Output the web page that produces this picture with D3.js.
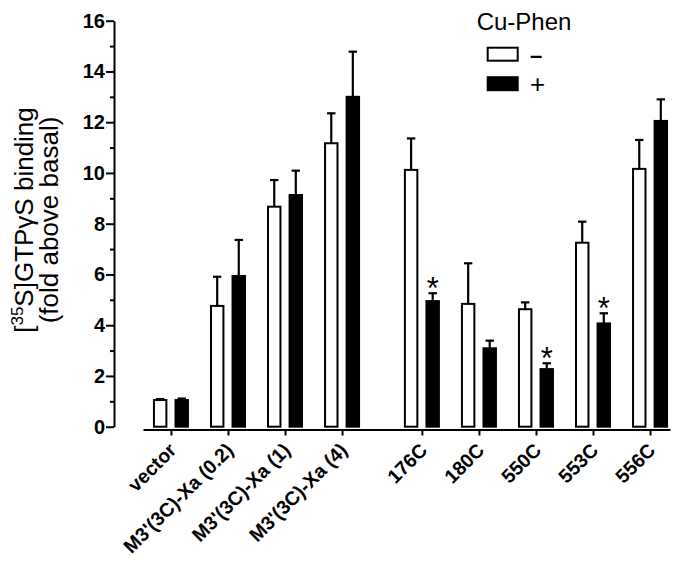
<!DOCTYPE html>
<html>
<head>
<meta charset="utf-8">
<script src="https://cdn.jsdelivr.net/npm/d3@7"></script>
<style>
  body { margin: 0; background: #fff; }
  svg { font-family: Arial, "Liberation Sans", Helvetica, sans-serif; }
</style>
</head>
<body>
<svg id="chart" width="673" height="563"></svg>
<script>
// data (fold above basal)
const categories = ["vector", "M3'(3C)-Xa (0.2)", "M3'(3C)-Xa (1)", "M3'(3C)-Xa (4)",
                    "176C", "180C", "550C", "553C", "556C"];
const minusValues = [1.05, 4.76, 8.67, 11.17, 10.12, 4.84, 4.63, 7.25, 10.16];
const minusErrors = [0.04, 1.15, 1.05, 1.18, 1.24, 1.60, 0.27, 0.83, 1.14];
const plusValues  = [1.05, 5.94, 9.13, 13.00, 4.95, 3.09, 2.27, 4.07, 12.05];
const plusErrors  = [0.06, 1.42, 0.96, 1.78, 0.31, 0.30, 0.23, 0.40, 0.85];
const significant = [false, false, false, false, true, false, true, true, false];
const yTicks = [0, 2, 4, 6, 8, 10, 12, 14, 16];
const yMinorTicks = [1, 3, 5, 7, 9, 11, 13, 15];
const legendTitle = "Cu-Phen";
const legendLabels = ["–", "+"];

// layout
const gapAfter = 3;      // extra space after the M3' series
const gapExtra = 0.4;    // in category units
const barStroke = 2;

const svg = d3.select("#chart");

const slots = categories.map((c, i) => i + (i > gapAfter ? gapExtra : 0));

const x = d3.scaleLinear().domain([-0.49, 8.75]).range([143, 670]);
const y = d3.scaleLinear().domain([0, 16]).range([426.7, 20.7]);
const sub = d3.scaleBand().domain(["minus", "plus"]).range([-18, 18]).paddingInner(0.33);

// build rows for bars
const rows = [];
categories.forEach((c, i) => {
    rows.push({cat: c, key: "minus", slot: slots[i], v: minusValues[i], e: minusErrors[i], star: false});
    rows.push({cat: c, key: "plus", slot: slots[i], v: plusValues[i], e: plusErrors[i], star: significant[i]});
});

const bx = d => x(d.slot) + sub(d.key);
const bw = sub.bandwidth();

// error bars (upward only) drawn first so bars cover the lower part
const err = svg.append("g").attr("class", "errors")
    .attr("stroke", "#000").attr("stroke-width", 2.2);
err.selectAll("line.stem").data(rows).join("line")
    .attr("class", "stem")
    .attr("x1", d => bx(d) + bw / 2).attr("x2", d => bx(d) + bw / 2)
    .attr("y1", d => y(d.v)).attr("y2", d => y(d.v + d.e));
err.selectAll("line.cap").data(rows).join("line")
    .attr("class", "cap")
    .attr("x1", d => bx(d) + bw / 2 - 4.2).attr("x2", d => bx(d) + bw / 2 + 4.2)
    .attr("y1", d => y(d.v + d.e)).attr("y2", d => y(d.v + d.e));

// bars
svg.append("g").attr("class", "bars")
  .selectAll("rect").data(rows).join("rect")
    .attr("x", d => bx(d) + barStroke / 2)
    .attr("width", bw - barStroke)
    .attr("y", d => y(d.v))
    .attr("height", d => y(0) - y(d.v))
    .attr("fill", d => d.key === "plus" ? "#000" : "#fff")
    .attr("stroke", "#000")
    .attr("stroke-width", barStroke);

// significance asterisks
svg.append("g").attr("class", "stars")
  .selectAll("text").data(rows.filter(d => d.star)).join("text")
    .attr("x", d => bx(d) + bw / 2)
    .attr("y", d => y(d.v + d.e) + 6)
    .attr("text-anchor", "middle")
    .style("font-size", "31px")
    .text("*");

// y axis with major and minor ticks
const yAxis = svg.append("g")
    .attr("transform", "translate(114,0)")
    .call(d3.axisLeft(y).tickValues(yTicks).tickSize(8).tickPadding(1).tickSizeOuter(0));
yAxis.selectAll("path, line").attr("stroke", "#000").attr("stroke-width", 2);
yAxis.selectAll("text").style("font-size", "20px").style("font-weight", "bold").attr("fill", "#000");

const yMinor = svg.append("g")
    .attr("transform", "translate(114,0)")
    .call(d3.axisLeft(y).tickValues(yMinorTicks).tickSize(4).tickFormat(""));
yMinor.select(".domain").remove();
yMinor.selectAll("line").attr("stroke", "#000").attr("stroke-width", 2);

// x axis, offset from the y axis
const xAxis = svg.append("g")
    .attr("transform", "translate(0,429.5)")
    .call(d3.axisBottom(x).tickValues(slots).tickFormat((d, i) => categories[i])
        .tickSize(6).tickSizeOuter(0));
xAxis.selectAll("path, line").attr("stroke", "#000").attr("stroke-width", 2);
xAxis.selectAll("text")
    .attr("x", 0).attr("y", 0).attr("dy", 0)
    .attr("transform", "translate(6,22) rotate(-45)")
    .attr("text-anchor", "end")
    .attr("fill", "#000")
    .style("font-size", "19.5px")
    .style("font-weight", "bold");

// y axis title
const title = svg.append("text")
    .attr("transform", "translate(33,220) rotate(-90)")
    .attr("text-anchor", "middle")
    .style("font-size", "26px");
const t1 = title.append("tspan").attr("x", 0).attr("y", 0);
t1.append("tspan").text("[");
t1.append("tspan").attr("dy", -10).style("font-size", "17px").text("35");
t1.append("tspan").attr("dy", 10).text("S]GTPγS binding");
title.append("tspan").attr("x", 0).attr("y", 25).text("(fold above basal)");

// legend
const legend = svg.append("g").attr("class", "legend");
legend.append("text")
    .attr("x", 524).attr("y", 30)
    .attr("text-anchor", "middle")
    .style("font-size", "24px")
    .text(legendTitle);
const legendRows = legend.selectAll("g.item").data(legendLabels).join("g")
    .attr("class", "item")
    .attr("transform", (d, i) => `translate(0,${i * 29.5})`);
legendRows.append("rect")
    .attr("x", 487.7).attr("y", 47.7)
    .attr("width", 30).attr("height", 13)
    .attr("fill", (d, i) => i ? "#000" : "#fff")
    .attr("stroke", "#000").attr("stroke-width", 2);
legendRows.append("text")
    .attr("x", 530).attr("y", 63)
    .style("font-size", (d, i) => i ? "26px" : "22px")
    .style("font-weight", (d, i) => i ? "normal" : "bold")
    .text(d => d);
</script>
</body>
</html>
